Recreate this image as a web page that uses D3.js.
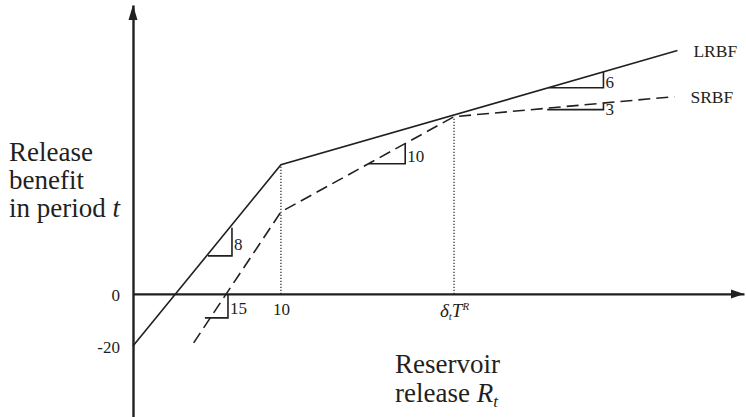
<!DOCTYPE html>
<html>
<head>
<meta charset="utf-8">
<script src="https://cdn.jsdelivr.net/npm/d3@7"></script>
<style>
    body { margin: 0; background: #fff; }
    svg text { font-family: "Liberation Serif", "Times New Roman", serif; fill: #231f20; }
</style>
</head>
<body>
<div id="chart"></div>
<script>
// values (release on x, benefit on y)
const lrbfRelease = [0, 10, 36.8];
const lrbfBenefit = [-20, 49.6, 93.5];
const srbfRelease = [4.1, 10, 21.7, 36.6];
const srbfBenefit = [-18.8, 31.5, 68.1, 75.8];

// slope triangles: horizontal leg x0..x1 at yBase, vertical leg at x1 up to yTop
const slopeLabels = ["8", "15", "10", "6", "3"];
const slopeX0 = [5.07, 4.86, 15.9, 28.1, 28.0];
const slopeX1 = [6.69, 6.42, 18.4, 31.8, 31.8];
const slopeYBase = [14.6, -9.2, 50, 79.2, 70.8];
const slopeYTop = [25.4, 0, 57.7, 85.4, 73.1];

const yTickValues = [0, -20];
const xTickValues = [10, 21.7];
const seriesNames = ["LRBF", "SRBF"];

const width = 746, height = 417;
const ink = "#231f20";

const svg = d3.select("#chart")
    .append("svg")
    .attr("width", width)
    .attr("height", height);

const x = d3.scaleLinear().domain([0, 41.3]).range([133, 744]);
const y = d3.scaleLinear().domain([-47.3, 111]).range([417, 5]);

// axes: no tick marks, only labels
const yAxis = svg.append("g")
    .attr("transform", "translate(" + x(0) + ",0)")
    .call(d3.axisLeft(y).tickValues(yTickValues).tickSize(0).tickPadding(13).tickFormat(d => String(d)));
const xAxis = svg.append("g")
    .attr("transform", "translate(0," + y(0) + ")")
    .call(d3.axisBottom(x).tickValues(xTickValues).tickSize(0).tickPadding(9));

[yAxis, xAxis].forEach(a => {
    a.attr("font-family", null);
    a.select(".domain").attr("stroke", ink).attr("stroke-width", 2.4);
    a.selectAll("text").style("font-size", "17px").attr("fill", ink);
});
yAxis.selectAll("text").attr("dy", "0.36em");
xAxis.selectAll("text").attr("dy", "0.72em");

// second x tick is the symbol delta_t T^R
xAxis.selectAll(".tick text")
    .filter(d => d === xTickValues[1])
    .text(null)
    .style("font-style", "italic")
    .style("font-size", "19px")
    .call(t => {
        t.append("tspan").text("δ");
        t.append("tspan").text("t").attr("dy", 3).style("font-size", "11px");
        t.append("tspan").text("T").attr("dy", -3);
        t.append("tspan").text("R").attr("dy", -7).style("font-size", "11px");
    });

// arrow heads
svg.append("path")
    .attr("d", d3.line()([[x(0) - 4.5, y(111) + 15], [x(0), y(111)], [x(0) + 4.5, y(111) + 15]]) + "Z")
    .attr("fill", ink);
svg.append("path")
    .attr("d", d3.line()([[x(41.3) - 13, y(0) - 4.5], [x(41.3), y(0)], [x(41.3) - 13, y(0) + 4.5]]) + "Z")
    .attr("fill", ink);

// dotted drop lines at the kinks
svg.selectAll("line.drop")
    .data([[lrbfRelease[1], lrbfBenefit[1]], [srbfRelease[2], srbfBenefit[2]]])
    .join("line")
    .attr("class", "drop")
    .attr("x1", d => x(d[0]))
    .attr("x2", d => x(d[0]))
    .attr("y1", y(0))
    .attr("y2", d => y(d[1]))
    .attr("stroke", ink)
    .attr("stroke-width", 1.2)
    .attr("stroke-dasharray", "1.2,1.8");

const toLine = d3.line().x(d => x(d[0])).y(d => y(d[1]));
const series = [
    {name: seriesNames[0], values: d3.zip(lrbfRelease, lrbfBenefit), dash: null},
    {name: seriesNames[1], values: d3.zip(srbfRelease, srbfBenefit), dash: "12,6"}
];

svg.selectAll("path.series")
    .data(series)
    .join("path")
    .attr("class", "series")
    .attr("d", d => toLine(d.values))
    .attr("fill", "none")
    .attr("stroke", ink)
    .attr("stroke-width", 1.6)
    .attr("stroke-dasharray", d => d.dash);

// series labels at the line ends
svg.selectAll("text.series")
    .data(series)
    .join("text")
    .attr("class", "series")
    .attr("x", d => x(d.values[d.values.length - 1][0]) + 16)
    .attr("y", d => y(d.values[d.values.length - 1][1]) + 6)
    .style("font-size", "17.5px")
    .text(d => d.name);

// slope triangles
const slopes = slopeLabels.map((label, i) => ({
    label: label, x0: slopeX0[i], x1: slopeX1[i], yb: slopeYBase[i], yt: slopeYTop[i]
}));
svg.selectAll("path.slope")
    .data(slopes)
    .join("path")
    .attr("class", "slope")
    .attr("d", d => toLine([[d.x0, d.yb], [d.x1, d.yb], [d.x1, d.yt]]))
    .attr("fill", "none")
    .attr("stroke", ink)
    .attr("stroke-width", 1.6);
svg.selectAll("text.slope")
    .data(slopes)
    .join("text")
    .attr("class", "slope")
    .attr("x", d => x(d.x1) + 2)
    .attr("y", d => (y(d.yb) + y(d.yt)) / 2 + 8)
    .style("font-size", "17px")
    .text(d => d.label);

// axis titles
const yTitle = svg.append("text")
    .attr("x", 9)
    .attr("y", 161)
    .style("font-size", "27px");
yTitle.append("tspan").attr("x", 9).text("Release");
yTitle.append("tspan").attr("x", 9).attr("dy", 28).text("benefit");
yTitle.append("tspan").attr("x", 9).attr("dy", 28).text("in period ");
yTitle.append("tspan").style("font-style", "italic").text("t");

const xTitle = svg.append("text")
    .attr("x", 395)
    .attr("y", 373)
    .style("font-size", "27px");
xTitle.append("tspan").attr("x", 395).text("Reservoir");
xTitle.append("tspan").attr("x", 395).attr("dy", 29).text("release ");
xTitle.append("tspan").style("font-style", "italic").text("R");
xTitle.append("tspan").style("font-style", "italic").style("font-size", "17px").attr("dy", 5).text("t");
</script>
</body>
</html>
